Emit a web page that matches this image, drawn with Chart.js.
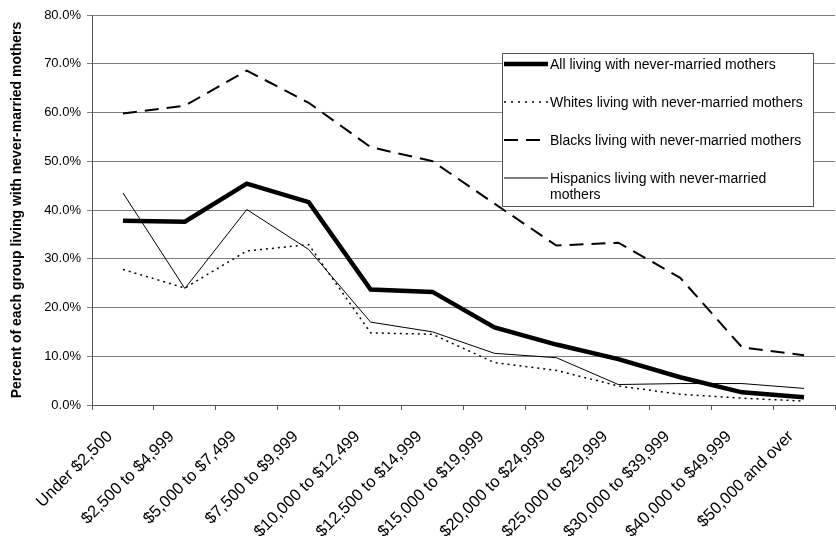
<!DOCTYPE html>
<html>
<head>
<meta charset="utf-8">
<style>
  html, body { margin: 0; padding: 0; background: #fff; }
  #wrap { width: 836px; height: 538px; }
</style>
</head>
<body>
<div id="wrap">
  <canvas id="chart" width="836" height="538"></canvas>
</div>

<script src="https://cdn.jsdelivr.net/npm/chart.js"></script>

<script>
  const incomeBrackets = [
    'Under $2,500', '$2,500 to $4,999', '$5,000 to $7,499', '$7,500 to $9,999',
    '$10,000 to $12,499', '$12,500 to $14,999', '$15,000 to $19,999', '$20,000 to $24,999',
    '$25,000 to $29,999', '$30,000 to $39,999', '$40,000 to $49,999', '$50,000 and over',
  ];

  const allNeverMarried = [37.8, 37.6, 45.4, 41.6, 23.7, 23.2, 15.9, 12.4, 9.4, 5.7, 2.6, 1.6];
  const whitesNeverMarried = [27.8, 24.0, 31.6, 32.9, 14.8, 14.5, 8.7, 7.1, 3.9, 2.2, 1.4, 0.8];
  const blacksNeverMarried = [59.8, 61.4, 68.6, 62.0, 52.9, 50.0, 41.3, 32.7, 33.3, 26.1, 11.8, 10.2];
  const hispanicsNeverMarried = [43.5, 23.9, 40.1, 31.9, 17.0, 15.0, 10.6, 9.7, 4.2, 4.4, 4.4, 3.4];

  const seriesLabels = [
    'All living with never-married mothers',
    'Whites living with never-married mothers',
    'Blacks living with never-married mothers',
    ['Hispanics living with never-married', 'mothers'],
  ];

  const yTicks = [0, 10, 20, 30, 40, 50, 60, 70, 80];

  const FONT = '"Liberation Sans", Arial, sans-serif';

  // boxed legend drawn inside the plot, upper right
  const boxLegend = {
    id: 'boxLegend',
    afterDatasetsDraw(chart) {
      const { ctx } = chart;
      const x = 502, y = 53, w = 311, h = 153;
      ctx.save();
      ctx.fillStyle = '#fff';
      ctx.fillRect(x, y, w, h);
      ctx.strokeStyle = '#555';
      ctx.lineWidth = 1;
      ctx.strokeRect(x + 0.5, y + 0.5, w, h);
      ctx.font = '14px ' + FONT;
      ctx.fillStyle = '#000';
      ctx.textBaseline = 'middle';
      const rows = [64, 102, 140, 178];
      chart.data.datasets.forEach((ds, i) => {
        const ry = rows[i];
        ctx.beginPath();
        ctx.strokeStyle = ds.borderColor;
        ctx.lineWidth = ds.borderWidth;
        ctx.setLineDash(ds.legendDash || ds.borderDash || []);
        ctx.moveTo(504, ry);
        ctx.lineTo(548, ry);
        ctx.stroke();
        ctx.setLineDash([]);
        const lines = Array.isArray(ds.label) ? ds.label : [ds.label];
        lines.forEach((t, j) => ctx.fillText(t, 550, ry + 1 + j * 16));
      });
      ctx.restore();
    },
  };

  const chart = new Chart(document.getElementById('chart'), {
    type: 'line',
    data: {
      labels: incomeBrackets,
      datasets: [
        { label: seriesLabels[0], data: allNeverMarried, borderColor: '#000', borderWidth: 4.5 },
        { label: seriesLabels[1], data: whitesNeverMarried, borderColor: '#000', borderWidth: 1.5, borderDash: [2, 4], legendDash: [2, 5] },
        { label: seriesLabels[2], data: blacksNeverMarried, borderColor: '#000', borderWidth: 2, borderDash: [14, 8] },
        { label: seriesLabels[3], data: hispanicsNeverMarried, borderColor: '#000', borderWidth: 1 },
      ],
    },
    options: {
      responsive: false,
      animation: false,
      layout: { padding: { top: 15, right: 1, left: 0, bottom: 0 } },
      elements: { point: { radius: 0 }, line: { tension: 0 } },
      plugins: {
        legend: { display: false },
        tooltip: { enabled: false },
      },
      scales: {
        x: {
          offset: true,
          grid: { offset: true, drawOnChartArea: false, color: '#555', tickLength: 5 },
          border: { color: '#555' },
          ticks: {
            color: '#000',
            font: { family: FONT, size: 16.5 },
            minRotation: 45,
            maxRotation: 45,
            autoSkip: false,
            padding: 17,
            labelOffset: -13,
          },
          afterFit(scale) { scale.height = 133; },
        },
        y: {
          min: 0,
          max: 80,
          afterBuildTicks(scale) { scale.ticks = yTicks.map(v => ({ value: v })); },
          grid: { color: '#808080', tickLength: 5 },
          border: { color: '#555' },
          ticks: {
            color: '#000',
            font: { family: FONT, size: 13 },
            padding: 6,
            callback: v => v.toFixed(1) + '%',
          },
          title: {
            display: true,
            text: 'Percent of each group living with never-married mothers',
            color: '#000',
            font: { family: FONT, size: 14, weight: 'bold' },
            padding: { top: 9, bottom: 4 },
          },
          afterFit(scale) { scale.width = 92; },
        },
      },
    },
    plugins: [boxLegend],
  });
</script>
</body>
</html>
